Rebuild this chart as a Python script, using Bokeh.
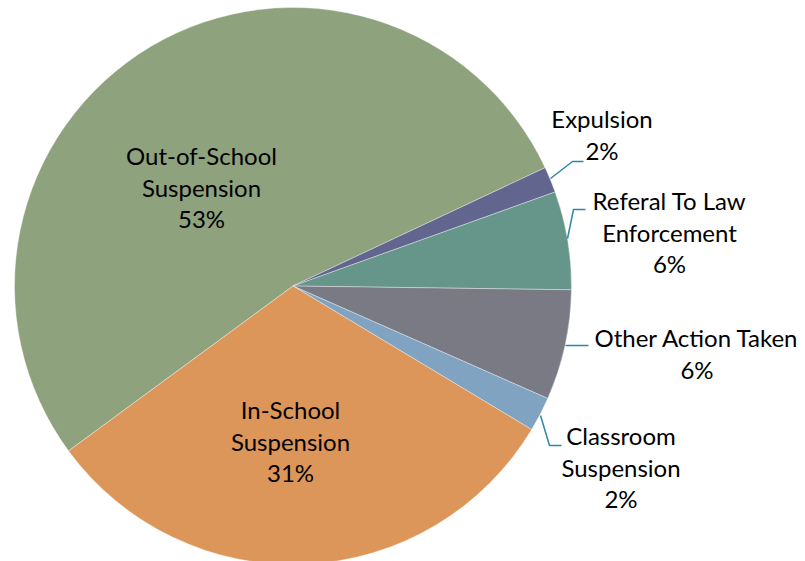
import math
from bokeh.plotting import figure
from bokeh.models import ColumnDataSource, Range1d
from bokeh.core.properties import value
from bokeh.embed import file_html
from bokeh.resources import INLINE

# ---- data ----
categories = ["Out-of-School Suspension", "Expulsion", "Referal To Law Enforcement",
              "Other Action Taken", "Classroom Suspension", "In-School Suspension"]
label_lines = [["Out-of-School", "Suspension"], ["Expulsion"], ["Referal To Law", "Enforcement"],
               ["Other Action Taken"], ["Classroom", "Suspension"], ["In-School", "Suspension"]]
shares = [53.1, 1.5, 5.7, 6.4, 2.0, 31.3]
colors = ["#8FA27E", "#62668F", "#66968A", "#7A7A85", "#7FA3C0", "#DD9659"]

W, H = 805, 561
M = 0

def px(x):
    return x - M

def py(y):
    return H - (y - M)

p = figure(width=W, height=H, output_backend="svg", toolbar_location=None,
           x_range=Range1d(0, W), y_range=Range1d(0, H), min_border=0)
p.axis.visible = False
p.grid.visible = False
p.outline_line_color = None
p.background_fill_color = "white"
p.border_fill_color = "white"

cx, cy, r = px(292.5), py(285.5), 278.5
start_deg = 216.3
total = sum(shares)
starts, ends = [], []
a = math.radians(start_deg)
for s in shares:
    da = 2 * math.pi * s / total
    starts.append(a)
    ends.append(a - da)
    a -= da

src = ColumnDataSource(dict(start=starts, end=ends, color=colors))
p.wedge(x=cx, y=cy, radius=r, start_angle="end", end_angle="start",
        fill_color="color", line_color="white", line_width=0.6, line_alpha=0.6,
        source=src)

# leader lines (page coords)
leaders = [
    [(550, 178), (572, 161), (583, 161)],
    [(567, 238), (573, 209), (585, 209)],
    [(565, 345), (588, 345)],
    [(540, 415), (549, 445), (561, 445)],
]
for pts in leaders:
    p.line([px(x) for x, _ in pts], [py(y) for _, y in pts], line_color="#2F86A8", line_width=1.5)

# label positions (page coords): center x, first-line y, line spacing
label_pos = [(201, 155), (601.5, 118), (669, 200), (696.5, 337), (620.5, 435), (290, 409)]
spacing = 31.5

xs, ys, texts = [], [], []
for lines, s, (lx, ly) in zip(label_lines, shares, label_pos):
    allines = lines + ["%d%%" % round(s)]
    for i, t in enumerate(allines):
        xs.append(px(lx))
        ys.append(py(ly + i * spacing))
        texts.append(t)

p.text(x=xs, y=ys, text=texts, text_align="center", text_baseline="middle",
       text_font=value("Lato"), text_font_size="24px", text_color="#000000")

open("out.html", "w").write(file_html(p, INLINE))
